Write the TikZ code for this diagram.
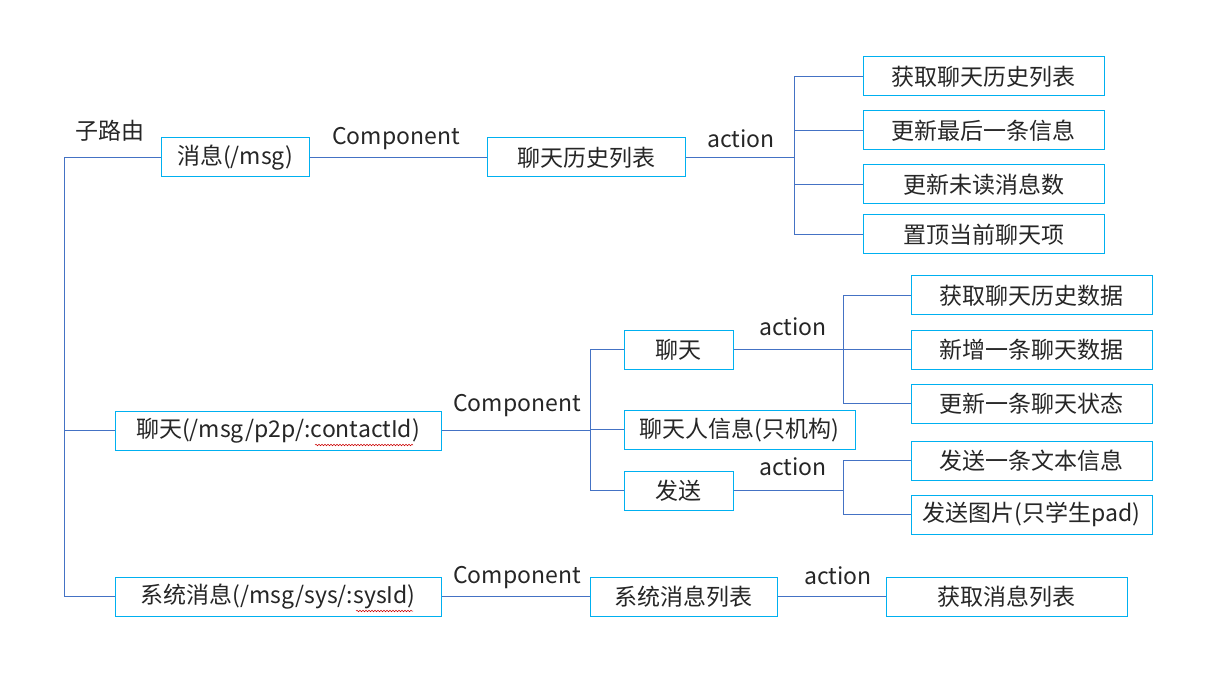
\documentclass[tikz,border=0pt]{standalone}
\usepackage{fontspec}
\setmainfont{Noto Sans CJK SC}
\usepackage{tikz}
\usetikzlibrary{decorations.pathmorphing}
\definecolor{boxblue}{RGB}{0,176,240}
\definecolor{linkblue}{RGB}{68,114,196}
\definecolor{inkgray}{RGB}{38,38,38}
\newcommand{\routefont}{\fontsize{23}{27}\selectfont}
\tikzset{
  routebox/.style={draw=boxblue, line width=1pt, minimum height=39pt, inner sep=0pt,
    font=\routefont, text=inkgray, fill=white},
  link/.style={draw=linkblue, line width=1pt},
  tag/.style={font=\routefont, text=inkgray, inner sep=0pt},
  squiggle/.style={draw=red!80!black, line width=0.5pt,
    decorate, decoration={snake, amplitude=0.8pt, segment length=3pt}}
}
\begin{document}
\begin{tikzpicture}[x=1pt, y=-1pt]
\useasboundingbox (0,0) rectangle (1225,684);
% labels
\node[tag] (lbroute) at (110,131) {子路由};
\node[tag] (lbcomp1) at (396,139) {Component};
\node[tag] (lbcomp2) at (517,406) {Component};
\node[tag] (lbcomp3) at (517,578) {Component};
\node[tag] (lbact1) at (741,139) {action};
\node[tag] (lbact2) at (793,327) {action};
\node[tag] (lbact3) at (793,467) {action};
\node[tag] (lbact4) at (838,576) {action};
% routes
\node[routebox, minimum width=148pt] (msg) at (235,157.5) {消息(/msg)};
\node[routebox, minimum width=326pt] (p2p) at (278,430.5) {聊天(/msg/p2p/:contactId)};
\node[routebox, minimum width=326pt] (sys) at (278,596.5) {系统消息(/msg/sys/:sysId)};
% components
\node[routebox, minimum width=198pt] (hist) at (586,157.5) {聊天历史列表};
\node[routebox, minimum width=109pt] (chat) at (678.5,349.5) {聊天};
\node[routebox, minimum width=231pt] (info) at (739.5,429.5) {聊天人信息(只机构)};
\node[routebox, minimum width=109pt] (send) at (678.5,490.5) {发送};
\node[routebox, minimum width=187pt] (syslist) at (683.5,596.5) {系统消息列表};
% actions
\foreach \name/\y/\txt in {a1/76.5/获取聊天历史列表, a2/130.5/更新最后一条信息,
    a3/184.5/更新未读消息数, a4/234.5/置顶当前聊天项}{
  \node[routebox, minimum width=241pt] (\name) at (983.5,\y) {\txt};
}
\foreach \name/\y/\txt in {b1/295.5/获取聊天历史数据, b2/349.5/新增一条聊天数据,
    b3/403.5/更新一条聊天状态, c1/460.5/发送一条文本信息, c2/514.5/发送图片(只学生pad)}{
  \node[routebox, minimum width=241pt] (\name) at (1031.5,\y) {\txt};
}
\node[routebox, minimum width=241pt] (d1) at (1006.5,596.5) {获取消息列表};
% spell check marks
\draw[squiggle] (315,445) -- (413,445);
\draw[squiggle] (356,611) -- (413,611);
% connectors
\coordinate (trunk) at (64,157.5);
\coordinate (fork1) at (794,157.5);
\coordinate (fork2) at (590,430.5);
\coordinate (fork3) at (843,349.5);
\coordinate (fork4) at (843,490.5);
\draw[link] (msg.west) -- (trunk) |- (sys.west);
\draw[link] (trunk |- p2p.west) -- (p2p.west);
\draw[link] (msg.east) -- (hist.west);
\draw[link] (hist.east) -- (fork1);
\foreach \n in {a1,a2,a3,a4} \draw[link] (fork1) |- (\n.west);
\draw[link] (p2p.east) -- (fork2);
\foreach \n in {chat,info,send} \draw[link] (fork2) |- (\n.west);
\draw[link] (chat.east) -- (fork3);
\foreach \n in {b1,b2,b3} \draw[link] (fork3) |- (\n.west);
\draw[link] (send.east) -- (fork4);
\foreach \n in {c1,c2} \draw[link] (fork4) |- (\n.west);
\draw[link] (sys.east) -- (syslist.west);
\draw[link] (syslist.east) -- (d1.west);
\end{tikzpicture}
\end{document}
